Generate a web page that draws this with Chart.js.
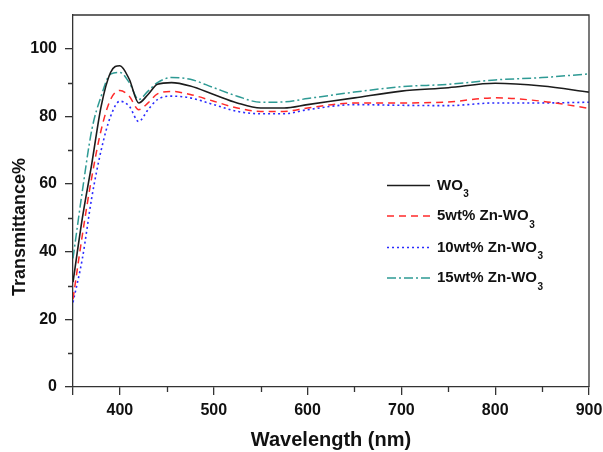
<!DOCTYPE html>
<html>
<head>
<meta charset="utf-8">
<script src="https://cdn.jsdelivr.net/npm/chart.js@4"></script>
<style>
  html, body { margin: 0; padding: 0; background: #fff; }
  #wrap { width: 603px; height: 452px; }
</style>
</head>
<body>
<div id="wrap"><canvas id="transChart"></canvas></div>
<script>
/* Transmittance vs wavelength */
const wavelengths = [350, 360, 370, 380, 390, 400, 410, 420, 430, 440, 455, 475, 500, 525, 550, 575, 600, 650, 700, 750, 800, 850, 900];
const wo3     = [31, 50, 66, 83, 93, 95, 91, 84, 86.5, 89.5, 90, 89, 86.5, 84, 82.5, 82.5, 83.5, 85.5, 87.5, 88.5, 89.8, 89, 87.2];
const zn5     = [26, 45, 62, 76, 85, 87.7, 86, 82, 84, 86.7, 87.4, 86.5, 84.5, 82.5, 81.5, 81.5, 82.5, 84, 84, 84.3, 85.5, 84.5, 82.4];
const zn10    = [25, 38, 56, 70, 80, 84.5, 83, 78.5, 82, 85, 86, 85.5, 83.5, 81.5, 80.8, 80.8, 82, 83.5, 83.3, 83.2, 84, 84, 84.2];
const zn15    = [38, 58, 76, 86, 92.5, 93, 90, 85, 87.5, 90, 91.5, 91, 88.5, 86, 84.2, 84.3, 85.3, 87.2, 88.8, 89.5, 90.8, 91.5, 92.6];
const seriesNames = ['WO', '5wt% Zn-WO', '10wt% Zn-WO', '15wt% Zn-WO'];
const xMinorTicks = [450, 550, 650, 750, 850];
const yMinorTicks = [10, 30, 50, 70, 90];

function pts(vals) {
  return vals.map((v, i) => ({ x: wavelengths[i], y: v }));
}

const fontFam = '"Liberation Sans", Arial, sans-serif';

const extras = {
  id: 'extras',
  afterDraw(chart) {
    const c = chart.ctx;
    const a = chart.chartArea;
    const xs = chart.scales.x, ys = chart.scales.y;
    c.save();
    c.strokeStyle = '#333';
    c.lineWidth = 1.3;
    c.setLineDash([]);
    // top + right frame
    c.beginPath();
    c.moveTo(a.left, a.top); c.lineTo(a.right, a.top); c.lineTo(a.right, a.bottom);
    c.stroke();
    // minor ticks
    c.beginPath();
    xMinorTicks.forEach(v => {
      const px = Math.round(xs.getPixelForValue(v)) + 0.5;
      c.moveTo(px, a.bottom); c.lineTo(px, a.bottom + 5);
    });
    yMinorTicks.forEach(v => {
      const py = Math.round(ys.getPixelForValue(v)) + 0.5;
      c.moveTo(a.left, py); c.lineTo(a.left - 5, py);
    });
    c.stroke();

    // y title
    c.fillStyle = '#111';
    c.font = 'bold 18px ' + fontFam;
    c.textAlign = 'center';
    c.textBaseline = 'middle';
    c.translate(20, 227);
    c.rotate(-Math.PI / 2);
    c.fillText('Transmittance%', 0, 0);
    c.restore();

    // legend with subscript 3
    c.save();
    const rowY = [185.5, 216, 247.5, 278];
    chart.data.datasets.forEach((ds, i) => {
      const y = rowY[i];
      c.strokeStyle = ds.borderColor;
      c.lineWidth = ds.borderWidth;
      c.setLineDash(ds.borderDash || []);
      c.beginPath();
      c.moveTo(387, y); c.lineTo(430, y);
      c.stroke();
      c.fillStyle = '#111';
      c.textAlign = 'left';
      c.textBaseline = 'middle';
      c.font = 'bold 15px ' + fontFam;
      c.fillText(seriesNames[i], 437, y);
      const w = c.measureText(seriesNames[i]).width;
      c.font = 'bold 10px ' + fontFam;
      c.fillText('3', 437 + w + 0.5, y + 9);
    });
    c.restore();
  }
};

const ctx = document.getElementById('transChart').getContext('2d');
const transChart = new Chart(ctx, {
  type: 'line',
  data: {
    datasets: [{
      label: 'WO3',
      data: pts(wo3),
      borderColor: '#1c1c1c',
      borderWidth: 1.6,
      pointRadius: 0,
      cubicInterpolationMode: 'monotone'
    }, {
      label: '5wt% Zn-WO3',
      data: pts(zn5),
      borderColor: '#ff2a2a',
      borderWidth: 1.5,
      borderDash: [7, 5],
      pointRadius: 0,
      cubicInterpolationMode: 'monotone'
    }, {
      label: '10wt% Zn-WO3',
      data: pts(zn10),
      borderColor: '#2a2aff',
      borderWidth: 1.6,
      borderDash: [2, 3],
      pointRadius: 0,
      cubicInterpolationMode: 'monotone'
    }, {
      label: '15wt% Zn-WO3',
      data: pts(zn15),
      borderColor: '#2e9a94',
      borderWidth: 1.5,
      borderDash: [9, 3, 2, 3],
      pointRadius: 0,
      cubicInterpolationMode: 'monotone'
    }]
  },
  options: {
    responsive: true,
    maintainAspectRatio: false,
    animation: false,
    layout: { padding: { left: 0, top: 15, right: 14, bottom: 0 } },
    plugins: {
      legend: { display: false },
      tooltip: { enabled: false }
    },
    scales: {
      x: {
        type: 'linear',
        min: 350,
        max: 900,
        afterFit: function(scale) {
          scale.height = 65;
          scale.paddingLeft = 0;
          scale.paddingRight = 0;
        },
        border: { display: true, color: '#333', width: 1.3 },
        grid: { drawOnChartArea: false, drawTicks: true, tickLength: 8, color: '#333', lineWidth: 1.3 },
        ticks: {
          stepSize: 100,
          padding: 6,
          color: '#111',
          font: { family: fontFam, size: 16, weight: 'bold' },
          maxRotation: 0,
          callback: function(value) {
            return value % 100 === 0 ? value : '';
          }
        },
        title: {
          display: true,
          text: 'Wavelength (nm)',
          color: '#111',
          font: { family: fontFam, size: 20, weight: 'bold' },
          padding: { top: 0, bottom: 0 }
        }
      },
      y: {
        min: 0,
        max: 110,
        afterFit: function(scale) {
          scale.width = 73;
          scale.paddingTop = 0;
          scale.paddingBottom = 0;
        },
        border: { display: true, color: '#333', width: 1.3 },
        grid: { drawOnChartArea: false, drawTicks: true, tickLength: 8, color: '#333', lineWidth: 1.3 },
        ticks: {
          stepSize: 20,
          padding: 8,
          color: '#111',
          font: { family: fontFam, size: 16, weight: 'bold' },
          callback: function(value) {
            return value % 20 === 0 && value <= 100 ? value : null;
          }
        }
      }
    }
  },
  plugins: [extras]
});
</script>
</body>
</html>
